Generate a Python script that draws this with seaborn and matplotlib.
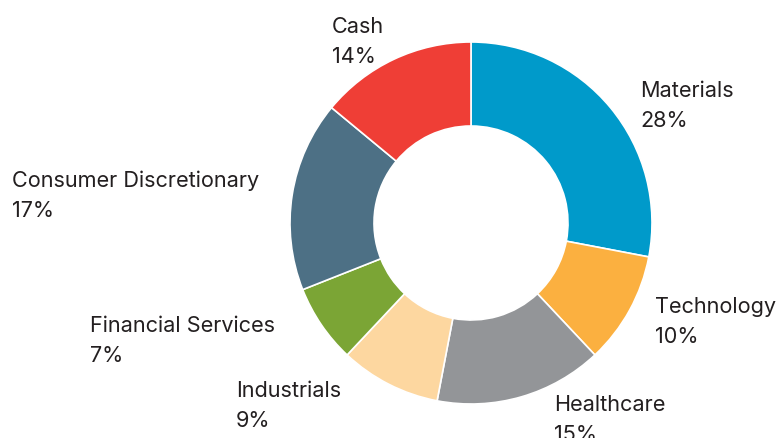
import matplotlib
matplotlib.use('Agg')
import matplotlib.pyplot as plt
import seaborn as sns

sectors = ['Materials', 'Technology', 'Healthcare', 'Industrials',
           'Financial Services', 'Consumer Discretionary', 'Cash']
weights = [28, 10, 15, 9, 7, 17, 14]
colors = ['#009ACA', '#FBB040', '#939598', '#FDD7A0',
          '#7BA535', '#4D7085', '#EF3E36']

# label anchor (left x, first-line baseline) in pixels of the 779x438 image
label_pos = {
    'Materials': (640, 97),
    'Technology': (655, 313),
    'Healthcare': (554, 411),
    'Industrials': (236, 397),
    'Financial Services': (90, 332),
    'Consumer Discretionary': (12, 187),
    'Cash': (332, 33),
}

sns.set_theme(style='white')
plt.rcParams['font.family'] = ['Inter', 'DejaVu Sans']

cx, cy = 471, 223
R = 181

fig = plt.figure(figsize=(7.79, 4.38), dpi=100)
ax = fig.add_axes([0, 0, 1, 1])
ax.pie(weights, colors=colors, radius=R, startangle=90, counterclock=False,
       wedgeprops=dict(width=R - 97, edgecolor='white', linewidth=1.2))
ax.set_xlim(-cx, 779 - cx)
ax.set_ylim(-(438 - cy), cy)
ax.set_aspect('equal')
ax.axis('off')

for name, w in zip(sectors, weights):
    px, py = label_pos[name]
    ax.text(px - cx, cy - py, name, ha='left', va='baseline',
            fontsize=15.6, color='#231F20')
    ax.text(px - cx, cy - py - 30, f'{w}%', ha='left', va='baseline',
            fontsize=15.6, color='#231F20')

fig.savefig('out.png', dpi=100)
